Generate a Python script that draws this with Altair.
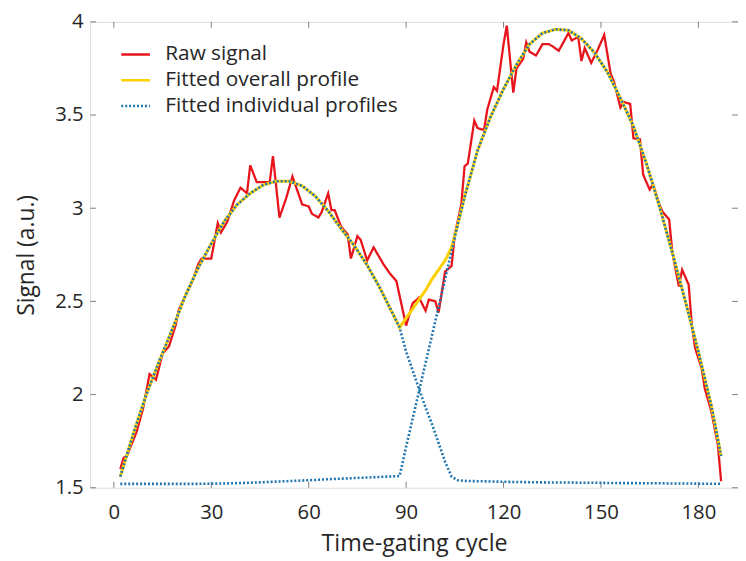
import altair as alt
import pandas as pd

# ---------------- data ----------------
raw_x = [2, 3, 4, 7, 9, 11, 13, 15, 17, 19, 20, 22, 24, 26, 27, 30, 32, 33, 35, 37,
         39, 41, 42, 44, 46, 48, 49, 51, 53, 55, 57, 58, 60, 61, 63, 64, 66, 67, 68, 70,
         72, 73, 75, 76, 78, 80, 81, 83, 85, 87, 88, 90, 92, 94, 96, 97, 99, 100, 102, 104,
         105, 107, 108, 109, 111, 112, 114, 115, 117, 118, 120, 121, 123, 124, 126, 127, 128, 130, 132, 134,
         135, 137, 140, 141, 143, 144, 145, 147, 149, 151, 153, 154, 156, 157, 159, 160, 162, 163, 165, 166,
         168, 169, 171, 172, 174, 175, 177, 178, 179, 181, 182, 184, 186, 187]
raw_y = [1.60, 1.66, 1.67, 1.80, 1.925, 2.11, 2.08, 2.22, 2.26, 2.37, 2.455, 2.53, 2.60, 2.70, 2.73, 2.73, 2.92, 2.87, 2.93, 3.04,
         3.11, 3.08, 3.23, 3.14, 3.14, 3.14, 3.28, 2.95, 3.05, 3.17, 3.07, 3.02, 3.01, 2.97, 2.95, 2.98, 3.08, 2.99, 2.99, 2.90,
         2.86, 2.73, 2.85, 2.83, 2.72, 2.79, 2.76, 2.70, 2.65, 2.61, 2.53, 2.37, 2.49, 2.52, 2.45, 2.51, 2.50, 2.44, 2.66, 2.69,
         2.86, 3.02, 3.225, 3.24, 3.47, 3.43, 3.42, 3.53, 3.65, 3.63, 3.88, 3.98, 3.62, 3.75, 3.80, 3.89, 3.84, 3.82, 3.88, 3.88,
         3.87, 3.845, 3.94, 3.90, 3.92, 3.79, 3.86, 3.78, 3.85, 3.93, 3.72, 3.68, 3.54, 3.57, 3.56, 3.375, 3.37, 3.18, 3.10, 3.13,
         3.02, 2.98, 2.94, 2.76, 2.58, 2.67, 2.59, 2.37, 2.25, 2.14, 2.03, 1.91, 1.73, 1.535]

fit_x = [2, 6, 10, 14, 18, 22, 26, 30, 34, 38, 42, 46, 50, 54, 58, 62, 66, 70, 74, 78,
         82, 86, 88, 90, 92, 94, 96, 98, 100, 102, 104, 106, 108, 112, 116, 120, 124, 128, 132, 136,
         140, 144, 148, 152, 156, 160, 164, 168, 172, 176, 180, 184, 187]
fit_peak1 = [1.56, 1.79, 2.00, 2.18, 2.35, 2.53, 2.68, 2.81, 2.93, 3.02, 3.08, 3.125, 3.145, 3.145, 3.12, 3.065, 2.985, 2.89, 2.80, 2.695,
             2.57, 2.43, 2.36, 2.23, 2.13, 2.03, 1.93, 1.84, 1.74, 1.64, 1.56, 1.54, 1.537, 1.535, 1.534, 1.532, 1.531, 1.530, 1.529, 1.528,
             1.528, 1.527, 1.527, 1.526, 1.525, 1.525, 1.524, 1.524, 1.523, 1.523, 1.522, 1.522, 1.521]
fit_peak2 = [1.521, 1.521, 1.521, 1.521, 1.521, 1.521, 1.521, 1.522, 1.523, 1.525, 1.527, 1.530, 1.533, 1.536, 1.539, 1.542, 1.546, 1.549, 1.552, 1.555,
             1.558, 1.561, 1.563, 1.72, 1.87, 2.02, 2.17, 2.32, 2.47, 2.62, 2.77, 2.92, 3.06, 3.31, 3.49, 3.64, 3.77, 3.88, 3.94, 3.96,
             3.955, 3.91, 3.835, 3.73, 3.59, 3.44, 3.24, 3.01, 2.76, 2.50, 2.23, 1.94, 1.67]
fit_overall = [1.56, 1.79, 2.00, 2.18, 2.35, 2.53, 2.68, 2.81, 2.93, 3.02, 3.08, 3.125, 3.145, 3.145, 3.12, 3.065, 2.985, 2.89, 2.80, 2.695,
               2.57, 2.43, 2.36, 2.41, 2.46, 2.51, 2.56, 2.62, 2.67, 2.72, 2.79, 2.92, 3.06, 3.31, 3.49, 3.64, 3.77, 3.88, 3.94, 3.96,
               3.955, 3.91, 3.835, 3.73, 3.59, 3.44, 3.24, 3.01, 2.76, 2.50, 2.23, 1.94, 1.67]

series_names = ["Raw signal", "Fitted overall profile", "Fitted individual profiles"]
series_colors = ["#e8141b", "#ffd000", "#1f74b0"]
x_ticks = [0, 30, 60, 90, 120, 150, 180]
y_ticks = [1.5, 2, 2.5, 3, 3.5, 4]

# ---------------- tables ----------------
rows = []
for xv, yv in zip(raw_x, raw_y):
    rows.append({"x": xv, "y": yv, "series": series_names[0], "grp": "raw"})
for xv, yv in zip(fit_x, fit_overall):
    rows.append({"x": xv, "y": yv, "series": series_names[1], "grp": "overall"})
for xv, yv in zip(fit_x, fit_peak1):
    rows.append({"x": xv, "y": yv, "series": series_names[2], "grp": "p1"})
for xv, yv in zip(fit_x, fit_peak2):
    rows.append({"x": xv, "y": yv, "series": series_names[2], "grp": "p2"})
df = pd.DataFrame(rows)

xt = pd.DataFrame({"t": x_ticks})
yt = pd.DataFrame({"t": y_ticks})

W, H = 655, 471
FONT = "Open Sans"
TXT = "#262626"
AX = "#808080"

xscale = alt.Scale(domain=[-7.31, 192.2], nice=False, zero=False)
yscale = alt.Scale(domain=[1.5, 4], nice=False, zero=False)

def legend_def():
    return alt.Legend(
        title=None, orient="none", legendX=30, legendY=17,
        symbolType="stroke", symbolSize=841, symbolStrokeWidth=2.5,
        labelFont=FONT, labelFontSize=21, labelColor=TXT,
        labelOffset=14, rowPadding=0, labelLimit=400,
    )

color = alt.Color("series:N",
                  scale=alt.Scale(domain=series_names, range=series_colors),
                  legend=legend_def())
dash = alt.StrokeDash("series:N",
                      scale=alt.Scale(domain=series_names, range=[[1, 0], [1, 0], [2, 2]]),
                      legend=legend_def())

xenc = alt.X("x:Q", scale=xscale,
             axis=alt.Axis(values=x_ticks, title="Time-gating cycle", grid=False,
                           domain=False, ticks=False, tickSize=0, labelPadding=15,
                           labelFont=FONT, labelFontSize=20.5, labelColor=TXT,
                           titleFont=FONT, titleFontSize=23.5, titleColor=TXT,
                           titleFontWeight="normal", titleY=63, titleBaseline="alphabetic"))
yenc = alt.Y("y:Q", scale=yscale,
             axis=alt.Axis(values=y_ticks, title="Signal (a.u.)", grid=False, format="~g",
                           domain=False, ticks=False, tickSize=0, labelPadding=7,
                           labelFont=FONT, labelFontSize=20.5, labelColor=TXT,
                           titleFont=FONT, titleFontSize=23, titleColor=TXT,
                           titleFontWeight="normal", titleX=-64, titleY=H / 2,
                           titleAngle=270, titleAlign="center", titleBaseline="middle"))

base = alt.Chart(df)
raw_layer = base.transform_filter(alt.datum.grp == "raw").mark_line(strokeWidth=2.3).encode(
    x=xenc, y=yenc, color=color, strokeDash=dash, order="x:Q")
overall_layer = base.transform_filter(alt.datum.grp == "overall").mark_line(strokeWidth=3).encode(
    x=xenc, y=yenc, color=color, strokeDash=dash, order="x:Q")
indiv_layer = base.transform_filter(alt.datum.grp == "p1").mark_line(strokeWidth=2.6).encode(
    x=xenc, y=yenc, color=color, strokeDash=dash, order="x:Q")
indiv_layer2 = base.transform_filter(alt.datum.grp == "p2").mark_line(strokeWidth=2.6).encode(
    x=xenc, y=yenc, color=color, strokeDash=dash, order="x:Q")

# inward tick marks (MATLAB style box)
tick_style = dict(color=AX, strokeWidth=1)
xt_bottom = alt.Chart(xt).mark_rule(**tick_style).encode(
    x=alt.X("t:Q", scale=xscale), y=alt.value(H), y2=alt.value(H - 6))
xt_top = alt.Chart(xt).mark_rule(**tick_style).encode(
    x=alt.X("t:Q", scale=xscale), y=alt.value(0), y2=alt.value(6))
yt_left = alt.Chart(yt).mark_rule(**tick_style).encode(
    y=alt.Y("t:Q", scale=yscale), x=alt.value(0), x2=alt.value(6))
yt_right = alt.Chart(yt).mark_rule(**tick_style).encode(
    y=alt.Y("t:Q", scale=yscale), x=alt.value(W), x2=alt.value(W - 6))

chart = alt.layer(
    xt_bottom, xt_top, yt_left, yt_right,
    raw_layer, overall_layer, indiv_layer, indiv_layer2,
).properties(
    width=W, height=H,
    padding={"left": 83, "top": 11, "right": 0, "bottom": 69},
    autosize=alt.AutoSizeParams(type="none"),
).configure_view(
    stroke=AX, strokeWidth=1
).configure(background="white")

chart.save("out.html", embed_options={"renderer": "svg", "actions": False})
